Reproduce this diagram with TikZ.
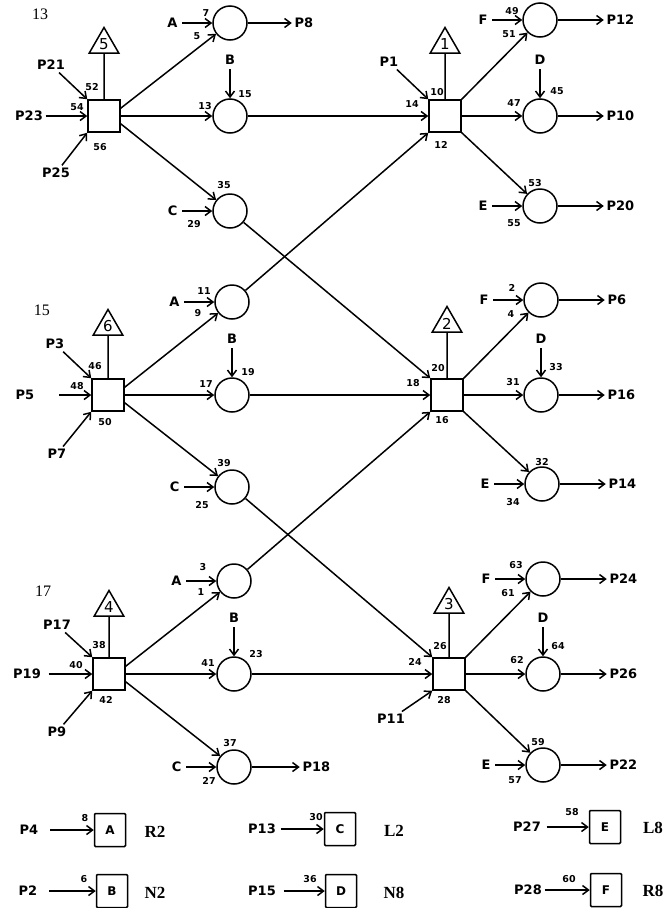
\documentclass[tikz,border=0pt]{standalone}
\usepackage{fontspec}
\setmainfont{Liberation Serif}
\newfontfamily\lett{DejaVu Sans}
\usetikzlibrary{positioning, shapes.geometric, arrows.meta}

\begin{document}
\begin{tikzpicture}[x=1pt, y=-1pt, line width=1.5pt,
  lab/.style={font=\lett\bfseries\fontsize{13}{13}\selectfont, inner sep=2pt},
  src/.style={lab, inner sep=4pt},
  nr/.style={font=\lett\bfseries\fontsize{9.5}{9.5}\selectfont, inner sep=0pt},
  hd/.style={font=\fontsize{16}{16}\selectfont, inner sep=0pt},
  sq/.style={draw, minimum size=32pt, inner sep=0pt},
  cir/.style={draw, circle, minimum size=34pt, inner sep=0pt},
  tri/.style={draw, regular polygon, regular polygon sides=3, minimum size=34pt, inner sep=0pt,
    font=\lett\fontsize{15}{15}\selectfont},
  lgbox/.style={draw, rounded corners=1pt, minimum width=31pt, minimum height=33pt, inner sep=0pt,
    font=\lett\bfseries\fontsize{12}{12}\selectfont},
  lgtag/.style={font=\bfseries\fontsize{17}{17}\selectfont, inner sep=0pt},
  arr/.style={-{Straight Barb[length=6pt,width=9pt]}},
  node distance=30pt]
\useasboundingbox (0,0) rectangle (666,908);

% group 13
\node[hd] (g13) at (40,14) {13};
\node[sq] (b5) at (104,116) {};
\node[tri] (t5) at (104,44.5) {5};
\node[cir] (ca1) at (230,23) {};
\node[cir] (cb1) at (230,116) {};
\node[cir] (cc1) at (230,211) {};
\node[lab] (p21) at (51,65) {P21};
\node[lab] (p23) at (29,116) {P23};
\node[lab] (p25) at (56,173) {P25};
\node[src, left=of ca1] (a1) {A};
\node[src, above=29pt of cb1] (bb1) {B};
\node[src, left=of cc1] (c1) {C};
\node[lab, right=44pt of ca1] (p8) {P8};
\node[nr] (n52) at (92,87) {52};
\node[nr] (n54) at (77,107) {54};
\node[nr] (n56) at (100,147) {56};
\node[nr] (n7) at (206,13) {7};
\node[nr] (n5) at (197,36) {5};
\node[nr] (n13) at (205,106) {13};
\node[nr] (n15) at (245,94) {15};
\node[nr] (n35) at (224,185) {35};
\node[nr] (n29) at (194,224) {29};

% box 1
\node[sq] (b1) at (445,116) {};
\node[tri] (t1) at (445,44.5) {1};
\node[cir] (cf1) at (540,20) {};
\node[cir] (cd1) at (540,116) {};
\node[cir] (ce1) at (540,206) {};
\node[lab] (p1) at (389,62) {P1};
\node[src, left=of cf1] (f1) {F};
\node[src, above=29pt of cd1] (d1) {D};
\node[src, left=of ce1] (e1) {E};
\node[lab, right=46pt of cf1] (p12) {P12};
\node[lab, right=46pt of cd1] (p10) {P10};
\node[lab, right=46pt of ce1] (p20) {P20};
\node[nr] (n10) at (437,92) {10};
\node[nr] (n14) at (412,104) {14};
\node[nr] (n12) at (441,145) {12};
\node[nr] (n49) at (512,11) {49};
\node[nr] (n51) at (509,34) {51};
\node[nr] (n45) at (557,91) {45};
\node[nr] (n47) at (514,103) {47};
\node[nr] (n53) at (535,183) {53};
\node[nr] (n55) at (514,223) {55};

% group 15
\node[hd] (g15) at (42,310) {15};
\node[sq] (b6) at (108,395) {};
\node[tri] (t6) at (108,326.5) {6};
\node[cir] (ca2) at (232,302) {};
\node[cir] (cb2) at (232,395) {};
\node[cir] (cc2) at (232,487) {};
\node[lab] (p3) at (55,344) {P3};
\node[lab] (p5) at (25,395) {P5};
\node[lab] (p7) at (57,454) {P7};
\node[src, left=of ca2] (a2) {A};
\node[src, above=29pt of cb2] (bb2) {B};
\node[src, left=of cc2] (c2) {C};
\node[nr] (n46) at (95,366) {46};
\node[nr] (n48) at (77,386) {48};
\node[nr] (n50) at (105,422) {50};
\node[nr] (n11) at (204,291) {11};
\node[nr] (n9) at (198,313) {9};
\node[nr] (n19) at (248,372) {19};
\node[nr] (n17) at (206,384) {17};
\node[nr] (n39) at (224,463) {39};
\node[nr] (n25) at (202,505) {25};

% box 2
\node[sq] (b2) at (447,395) {};
\node[tri] (t2) at (447,323.5) {2};
\node[cir] (cf2) at (541,300) {};
\node[cir] (cd2) at (541,395) {};
\node[cir] (ce2) at (542,484) {};
\node[src, left=of cf2] (f2) {F};
\node[src, above=29pt of cd2] (d2) {D};
\node[src, left=of ce2] (e2) {E};
\node[lab, right=46pt of cf2] (p6) {P6};
\node[lab, right=46pt of cd2] (p16) {P16};
\node[lab, right=46pt of ce2] (p14) {P14};
\node[nr] (n20) at (438,368) {20};
\node[nr] (n18) at (413,383) {18};
\node[nr] (n16) at (442,420) {16};
\node[nr] (n2) at (512,288) {2};
\node[nr] (n4) at (511,314) {4};
\node[nr] (n33) at (556,367) {33};
\node[nr] (n31) at (513,382) {31};
\node[nr] (n32) at (542,462) {32};
\node[nr] (n34) at (513,502) {34};

% group 17
\node[hd] (g17) at (43,591) {17};
\node[sq] (b4) at (109,674) {};
\node[tri] (t4) at (109,607.5) {4};
\node[cir] (ca3) at (234,581) {};
\node[cir] (cb3) at (234,674) {};
\node[cir] (cc3) at (234,767) {};
\node[lab] (p17) at (57,625) {P17};
\node[lab] (p19) at (27,674) {P19};
\node[lab] (p9) at (57,732) {P9};
\node[src, left=of ca3] (a3) {A};
\node[src, above=29pt of cb3] (bb3) {B};
\node[src, left=of cc3] (c3) {C};
\node[lab, right=48pt of cc3] (p18) {P18};
\node[nr] (n38) at (99,645) {38};
\node[nr] (n40) at (76,665) {40};
\node[nr] (n42) at (106,700) {42};
\node[nr] (n3) at (203,567) {3};
\node[nr] (n1) at (201,592) {1};
\node[nr] (n23) at (256,654) {23};
\node[nr] (n41) at (208,663) {41};
\node[nr] (n37) at (230,743) {37};
\node[nr] (n27) at (209,781) {27};

% box 3
\node[sq] (b3) at (449,674) {};
\node[tri] (t3) at (449,604.5) {3};
\node[cir] (cf3) at (543,579) {};
\node[cir] (cd3) at (543,674) {};
\node[cir] (ce3) at (543,765) {};
\node[lab] (p11) at (391,719) {P11};
\node[src, left=of cf3] (f3) {F};
\node[src, above=29pt of cd3] (d3) {D};
\node[src, left=of ce3] (e3) {E};
\node[lab, right=46pt of cf3] (p24) {P24};
\node[lab, right=46pt of cd3] (p26) {P26};
\node[lab, right=46pt of ce3] (p22) {P22};
\node[nr] (n26) at (440,646) {26};
\node[nr] (n24) at (415,662) {24};
\node[nr] (n28) at (444,700) {28};
\node[nr] (n63) at (516,565) {63};
\node[nr] (n61) at (508,593) {61};
\node[nr] (n64) at (558,646) {64};
\node[nr] (n62) at (517,660) {62};
\node[nr] (n59) at (538,742) {59};
\node[nr] (n57) at (515,780) {57};

% legend
\node[lgbox] (ka) at (110,830) {A};
\node[lgbox] (kc) at (340,829) {C};
\node[lgbox] (ke) at (605,827) {E};
\node[lgbox] (kb) at (112,891) {B};
\node[lgbox] (kd) at (341,891) {D};
\node[lgbox] (kf) at (606,890) {F};
\node[lab] (p4) at (29,830) {P4};
\node[lab] (p13) at (262,829) {P13};
\node[lab] (p27) at (527,827) {P27};
\node[lab] (p2) at (28,891) {P2};
\node[lab] (p15) at (262,891) {P15};
\node[lab] (p28) at (528,890) {P28};
\node[lgtag] (r2) at (155,832) {R2};
\node[lgtag] (l2) at (394,831) {L2};
\node[lgtag] (l8) at (653,828) {L8};
\node[lgtag] (n2t) at (155,893) {N2};
\node[lgtag] (n8t) at (394,893) {N8};
\node[lgtag] (r8) at (653,891) {R8};
\node[nr] (n8) at (85,818) {8};
\node[nr] (n30) at (316,817) {30};
\node[nr] (n58) at (572,812) {58};
\node[nr] (n6) at (84,879) {6};
\node[nr] (n36) at (310,879) {36};
\node[nr] (n60) at (569,879) {60};

\foreach \tt/\bx in {t5/b5, t1/b1, t6/b6, t2/b2, t4/b4, t3/b3}
  {\draw (\tt) -- (\bx);}
\foreach \frm/\tto in {p21/b5.north west, p25/b5.south west, p1/b1.north west,
  p3/b6.north west, p7/b6.south west, p17/b4.north west, p9/b4.south west,
  p11/b3.south west, p23/b5}
  {\draw[arr] (\frm) -- (\tto);}
\draw[arr, shorten <=22pt] (p5) -- (b6);
\draw[arr, shorten <=5pt] (p19) -- (b4);
\foreach \frm/\tto in {a1/ca1, bb1/cb1, c1/cc1, f1/cf1, d1/cd1, e1/ce1,
  a2/ca2, bb2/cb2, c2/cc2, f2/cf2, d2/cd2, e2/ce2,
  a3/ca3, bb3/cb3, c3/cc3, f3/cf3, d3/cd3, e3/ce3}
  {\draw[arr] (\frm) -- (\tto);}
\foreach \frm/\tto in {ca1/p8, cf1/p12, cd1/p10, ce1/p20, cf2/p6, cd2/p16, ce2/p14,
  cc3/p18, cf3/p24, cd3/p26, ce3/p22}
  {\draw[arr] (\frm) -- (\tto);}
\foreach \bx/\ca/\cb/\cc in {b5/ca1/cb1/cc1, b6/ca2/cb2/cc2, b4/ca3/cb3/cc3}
  {\draw[arr] (\bx.25) -- (\ca);
   \draw[arr] (\bx) -- (\cb);
   \draw[arr] (\bx.-25) -- (\cc);}
\foreach \bx/\ca/\cb/\cc in {b1/cf1/cd1/ce1, b2/cf2/cd2/ce2, b3/cf3/cd3/ce3}
  {\draw[arr] (\bx.north east) -- (\ca);
   \draw[arr] (\bx) -- (\cb);
   \draw[arr] (\bx.south east) -- (\cc);}
\foreach \frm/\tto in {cb1/b1, cb2/b2, cb3/b3, cc1/b2.north west, ca2/b1.south west,
  cc2/b3.north west, ca3/b2.south west}
  {\draw[arr] (\frm) -- (\tto);}
\foreach \frm/\tto/\gap in {p4/ka/9pt, p13/kc/2pt, p27/ke/3pt, p2/kb/9pt, p15/kd/5pt, p28/kf/0pt}
  {\draw[arr, shorten <=\gap] (\frm) -- (\tto);}
\end{tikzpicture}
\end{document}
